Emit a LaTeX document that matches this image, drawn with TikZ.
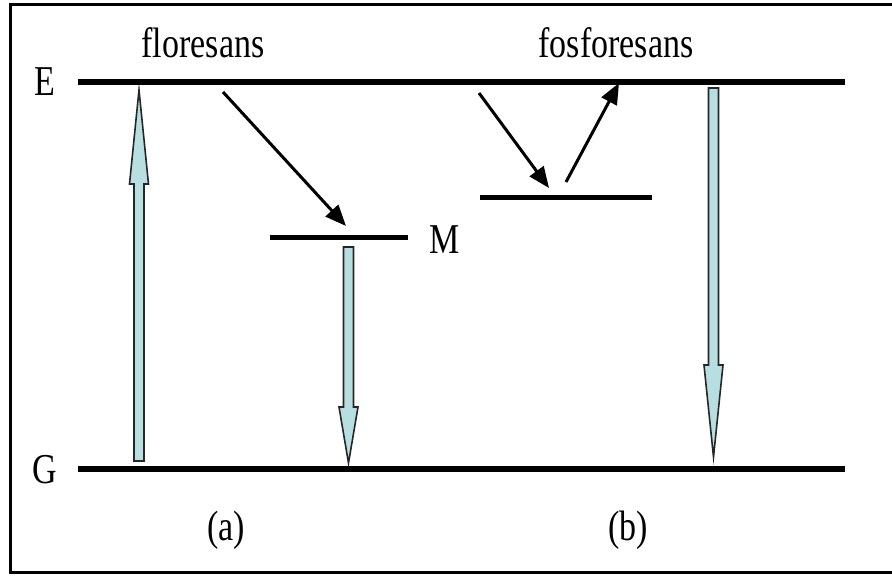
\documentclass[tikz,border=0pt]{standalone}
\usepackage{fontspec}
\setmainfont{Liberation Serif}
\usetikzlibrary{arrows.meta}
\definecolor{glow}{RGB}{183,223,226}
\newcommand{\tall}[1]{\scalebox{1}[1.25]{#1}}
% block arrow: x, tail y, head base y, tip y
\newcommand{\blockarrow}[4]{%
  \draw[glowarrow] (#1-5,#2) -- (#1-5,#3) -- (#1-9.5,#3) -- (#1,#4)
    -- (#1+9.5,#3) -- (#1+5,#3) -- (#1+5,#2) -- cycle;}

\begin{document}
\begin{tikzpicture}[x=1pt,y=-1pt,
  level/.style={line width=6.5pt},
  midlevel/.style={line width=5pt},
  kick/.style={line width=3pt,-{Triangle[length=21pt,width=17pt]}},
  glowarrow/.style={draw=black!85,line width=1.6pt,fill=glow,line join=miter},
  lab/.style={font=\fontsize{34}{34}\selectfont,inner sep=0pt}]
  \useasboundingbox (0,0) rectangle (892,576);
  \draw[line width=3pt] (10,4) rectangle (900,572);
  % levels
  \coordinate (E1) at (78,82);  \coordinate (E2) at (845,82);
  \coordinate (G1) at (78,469); \coordinate (G2) at (845,469);
  \coordinate (M1) at (270,237); \coordinate (M2) at (408,237);
  \coordinate (T1) at (480,197); \coordinate (T2) at (652,197);
  \draw[level] (E1) -- (E2);
  \draw[level] (G1) -- (G2);
  \draw[midlevel] (M1) -- (M2);
  \draw[midlevel] (T1) -- (T2);
  \node[lab,anchor=base] (e) at (45,95) {\tall{E}};
  \node[lab,anchor=base] (g) at (45,483) {\tall{G}};
  \node[lab,anchor=base] (m) at (445,253) {\tall{M}};
  \node[lab,anchor=base] (flo) at (203,57) {\tall{floresans}};
  \node[lab,anchor=base] (fos) at (616,57) {\tall{fosforesans}};
  \node[lab,anchor=base] (a) at (226,540) {\tall{(a)}};
  \node[lab,anchor=base] (b) at (628,540) {\tall{(b)}};
  % nonradiative steps
  \coordinate (f1) at (223,92);  \coordinate (f2) at (346,226);
  \coordinate (p1) at (479,93);  \coordinate (p2) at (549,188);
  \coordinate (p3) at (566,182); \coordinate (p4) at (619,83);
  \draw[kick] (f1) -- (f2);
  \draw[kick] (p1) -- (p2);
  \draw[kick] (p3) -- (p4);
  % absorption and emission
  \blockarrow{139}{461}{184}{90}
  \blockarrow{348.5}{247}{407}{463}
  \blockarrow{713.5}{88}{365}{457}
\end{tikzpicture}
\end{document}
